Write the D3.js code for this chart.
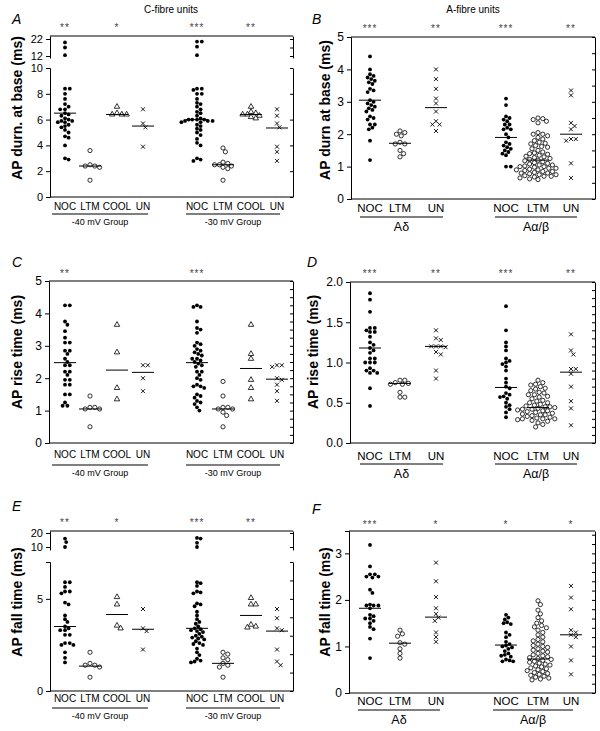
<!DOCTYPE html>
<meta charset="utf-8">
<script src="https://d3js.org/d3.v7.min.js"></script>
<style>
  body { margin: 0; background: #fff; }
  text { font-family: "Liberation Sans", Arial, sans-serif; fill: #000; }
</style>
<div id="chart"></div>
<script>

// ---- data ----
var catsC = ["NOC", "LTM", "COOL", "UN", "NOC", "LTM", "COOL", "UN"];
var catsA = ["NOC", "LTM", "UN", "NOC", "LTM", "UN"];
var groupsC = ["-40 mV Group", "-30 mV Group"];
var groupsA = ["A\u03b4", "A\u03b1/\u03b2"];

// A: AP duration at base, C-fibres
var durC = [
  [20, 17, 12.5, 8.4, 8.4, 8.0, 7.6, 7.2, 7.0, 6.8, 6.8, 6.5, 6.4, 6.3, 6.1, 6.0, 5.9, 5.9, 5.8, 5.8, 5.6, 5.5, 5.4, 5.2, 5.0, 4.7, 4.6, 4.0, 3.0, 2.9],
  [3.6, 2.5, 2.4, 2.3, 2.4, 1.3],
  [7.0, 6.4, 6.4, 6.4, 6.5],
  [6.8, 5.7, 5.4, 3.9],
  [20.5, 20.5, 17.5, 12.5, 8.4, 8.4, 8.3, 8.0, 8.0, 7.6, 7.3, 7.2, 7.0, 6.8, 6.6, 6.5, 6.3, 6.1, 6.0, 6.0, 6.0, 6.0, 5.9, 5.9, 5.9, 5.8, 5.8, 5.6, 5.5, 5.3, 5.2, 5.0, 4.8, 4.5, 4.2, 4.0, 3.0, 2.9, 2.8],
  [3.8, 3.5, 2.7, 2.6, 2.5, 2.5, 2.4, 2.3, 2.2, 1.3],
  [7.0, 6.6, 6.5, 6.4, 6.4, 6.3, 6.2, 6.1],
  [6.8, 6.3, 5.7, 5.4, 3.9, 3.5, 2.8]
];
var durCMed = [6.5, 2.4, 6.4, 5.5, 6.0, 2.5, 6.4, 5.35];

// B: AP duration at base, A-fibres
var durA = [
  [4.4, 4.0, 3.85, 3.8, 3.75, 3.7, 3.65, 3.6, 3.55, 3.4, 3.35, 3.3, 3.05, 3.0, 2.95, 2.9, 2.85, 2.8, 2.75, 2.7, 2.55, 2.5, 2.45, 2.3, 2.3, 2.2, 2.15, 1.8, 1.2],
  [2.1, 2.05, 2.0, 1.95, 1.75, 1.7, 1.7, 1.5, 1.4, 1.3],
  [4.0, 3.7, 3.4, 3.1, 2.95, 2.7, 2.4, 2.3, 2.3, 2.1],
  [3.1, 2.9, 2.55, 2.5, 2.45, 2.4, 2.3, 2.3, 2.2, 2.15, 2.15, 2.0, 1.9, 1.75, 1.7, 1.65, 1.6, 1.55, 1.5, 1.45, 1.4, 1.35, 1.0, 1.0],
  [2.5, 2.48, 2.45, 2.4, 2.35, 2.05, 2.0, 2.0, 1.95, 1.9, 1.85, 1.8, 1.75, 1.72, 1.7, 1.65, 1.62, 1.6, 1.55, 1.5, 1.45, 1.42, 1.4, 1.38, 1.35, 1.32, 1.3, 1.28, 1.25, 1.22, 1.2, 1.18, 1.15, 1.12, 1.1, 1.08, 1.05, 1.05, 1.02, 1.0, 1.0, 0.98, 0.95, 0.95, 0.92, 0.9, 0.9, 0.88, 0.85, 0.85, 0.82, 0.8, 0.8, 0.78, 0.75, 0.75, 0.72, 0.7, 0.7, 0.68, 0.65, 0.62, 0.6],
  [3.35, 3.2, 2.35, 2.25, 2.15, 1.85, 1.85, 1.8, 1.1, 0.65]
];
var durAMed = [3.05, 1.72, 2.82, 1.9, 1.2, 2.0];

// C: AP rise time, C-fibres
var riseC = [
  [4.25, 4.25, 3.75, 3.65, 3.45, 3.25, 3.1, 3.1, 2.85, 2.85, 2.75, 2.6, 2.5, 2.4, 2.4, 2.2, 2.2, 2.1, 1.95, 1.95, 1.8, 1.8, 1.5, 1.5, 1.25, 1.15, 1.15],
  [1.45, 1.1, 1.1, 1.05, 1.05, 0.5],
  [3.65, 2.8, 1.7, 1.35],
  [2.4, 2.4, 2.0, 1.6],
  [4.25, 4.2, 4.2, 3.75, 3.55, 3.5, 3.4, 3.1, 3.05, 3.0, 2.9, 2.85, 2.8, 2.75, 2.7, 2.6, 2.6, 2.55, 2.5, 2.45, 2.4, 2.35, 2.2, 2.2, 2.1, 2.0, 1.95, 1.8, 1.75, 1.75, 1.7, 1.5, 1.45, 1.4, 1.3, 1.25, 1.2, 1.1, 1.0],
  [1.9, 1.45, 1.1, 1.1, 1.05, 1.05, 0.95, 0.85, 0.5],
  [3.65, 2.75, 2.6, 1.95, 1.7, 1.35],
  [2.4, 2.4, 2.35, 2.0, 1.95, 1.8, 1.6, 1.3]
];
var riseCMed = [2.48, 1.05, 2.25, 2.18, 2.48, 1.05, 2.3, 1.97];

// D: AP rise time, A-fibres
var riseA = [
  [1.86, 1.78, 1.63, 1.43, 1.43, 1.4, 1.38, 1.38, 1.32, 1.25, 1.22, 1.18, 1.15, 1.12, 1.05, 1.05, 1.0, 1.0, 1.0, 0.93, 0.9, 0.9, 0.87, 0.87, 0.68, 0.46],
  [0.78, 0.78, 0.75, 0.74, 0.73, 0.73, 0.63, 0.57, 0.57],
  [1.4, 1.3, 1.28, 1.2, 1.2, 1.2, 1.19, 1.13, 1.1, 0.9, 0.8],
  [1.7, 1.4, 1.25, 1.2, 1.15, 1.05, 1.02, 1.0, 0.98, 0.95, 0.9, 0.8, 0.75, 0.7, 0.68, 0.62, 0.6, 0.58, 0.57, 0.55, 0.5, 0.47, 0.45, 0.42, 0.38, 0.32],
  [0.78, 0.75, 0.73, 0.72, 0.7, 0.68, 0.67, 0.65, 0.63, 0.62, 0.6, 0.6, 0.58, 0.57, 0.55, 0.53, 0.52, 0.5, 0.5, 0.48, 0.47, 0.46, 0.45, 0.45, 0.44, 0.43, 0.42, 0.42, 0.41, 0.4, 0.4, 0.39, 0.38, 0.37, 0.36, 0.35, 0.35, 0.34, 0.33, 0.32, 0.31, 0.3, 0.3, 0.3, 0.29, 0.28, 0.27, 0.25, 0.23, 0.2],
  [1.35, 1.15, 1.1, 0.92, 0.92, 0.86, 0.7, 0.52, 0.43, 0.22]
];
var riseAMed = [1.18, 0.74, 1.2, 0.69, 0.44, 0.88];

// E: AP fall time, C-fibres
var fallC = [
  [16, 13.5, 10, 5.9, 5.9, 5.65, 5.4, 5.4, 5.3, 4.8, 4.7, 4.1, 3.9, 3.75, 3.5, 3.4, 3.3, 3.3, 3.05, 3.05, 2.6, 2.6, 2.5, 2.5, 2.1, 1.8, 1.55],
  [2.1, 1.5, 1.4, 1.4, 1.3, 0.75],
  [5.1, 4.7, 3.55, 3.4],
  [4.45, 3.4, 3.25, 2.25],
  [16.5, 16, 13, 10, 5.9, 5.85, 5.7, 5.4, 5.35, 5.3, 4.75, 4.7, 4.6, 4.3, 4.1, 3.9, 3.75, 3.65, 3.5, 3.4, 3.35, 3.3, 3.25, 3.2, 3.1, 3.0, 2.95, 2.9, 2.85, 2.8, 2.7, 2.6, 2.55, 2.5, 2.3, 2.1, 1.95, 1.75, 1.65, 1.6, 1.55],
  [2.1, 2.0, 1.8, 1.7, 1.5, 1.4, 1.3, 0.75],
  [5.05, 4.7, 4.7, 3.6, 3.5, 3.45],
  [4.45, 3.95, 3.4, 3.3, 2.25, 1.6, 1.4]
];
var fallCMed = [3.5, 1.35, 4.15, 3.35, 3.4, 1.5, 4.1, 3.25];

// F: AP fall time, A-fibres
var fallA = [
  [3.18, 2.72, 2.55, 2.55, 2.5, 2.5, 2.48, 2.22, 2.15, 1.9, 1.88, 1.88, 1.88, 1.82, 1.68, 1.65, 1.6, 1.6, 1.55, 1.5, 1.42, 1.37, 1.17, 0.75],
  [1.35, 1.27, 1.22, 1.08, 1.05, 0.95, 0.85, 0.75],
  [2.8, 2.4, 2.06, 1.82, 1.7, 1.62, 1.55, 1.3, 1.2, 1.1],
  [1.68, 1.62, 1.58, 1.52, 1.5, 1.48, 1.3, 1.25, 1.2, 1.1, 1.05, 1.02, 1.0, 0.98, 0.95, 0.9, 0.85, 0.82, 0.8, 0.78, 0.72, 0.7, 0.68, 0.68],
  [1.98, 1.9, 1.78, 1.7, 1.62, 1.55, 1.5, 1.45, 1.42, 1.4, 1.35, 1.3, 1.25, 1.2, 1.15, 1.12, 1.1, 1.05, 1.02, 1.0, 0.98, 0.95, 0.92, 0.9, 0.88, 0.85, 0.82, 0.8, 0.78, 0.76, 0.74, 0.72, 0.7, 0.68, 0.66, 0.64, 0.62, 0.6, 0.58, 0.56, 0.54, 0.52, 0.5, 0.48, 0.46, 0.44, 0.42, 0.4, 0.38, 0.36, 0.34, 0.32, 0.3, 0.28],
  [2.3, 2.05, 1.8, 1.35, 1.3, 1.25, 1.2, 1.0, 0.7, 0.4]
];
var fallAMed = [1.82, 1.07, 1.63, 1.03, 0.73, 1.25];

// significance stars: [category index, label]
var starsA = [[0, "**"], [2, "*"], [4, "***"], [6, "**"]];
var starsB = [[0, "***"], [2, "**"], [3, "***"], [5, "**"]];
var starsC = [[0, "**"], [4, "***"]];
var starsD = [[0, "***"], [2, "**"], [3, "***"], [5, "**"]];
var starsE = [[0, "**"], [2, "*"], [4, "***"], [6, "**"]];
var starsF = [[0, "***"], [2, "*"], [3, "*"], [5, "*"]];

// ---- layout ----
var W = 600, H = 731;
var svg = d3.select("#chart").append("svg")
    .attr("width", W).attr("height", H);

var xLeft = [65, 90, 117, 143, 197, 223, 251, 277];
var xRight = [370, 400, 436, 506, 538, 571];

var panels = [
  {letter: "A", lx: 12, ly: 24, x0: 50, x1: 293, xs: xLeft, cats: catsC, data: durC, med: durCMed, stars: starsA, sy: 31,
   label: "AP durn. at base (ms)", labx: 22, laby: 108,
   lower: {dom: [0, 10], rng: [197, 68], ticks: [0, 2, 4, 6, 8, 10], minor: 2},
   upper: {dom: [12, 22], rng: [56, 39], top: 36, bot: 58, ticks: [12, 22], minor: [12, 17, 22]}, brk: 11,
   catY: 210, catSize: 10, groups: groupsC, gLines: [[52, 148], [186, 280]], gLineY: 214, gLabY: 225, gSize: 9},
  {letter: "B", lx: 312, ly: 24, x0: 351, x1: 595, xs: xRight, cats: catsA, data: durA, med: durAMed, stars: starsB, sy: 32,
   label: "AP durn at base (ms)", labx: 330, laby: 110,
   lower: {dom: [0, 5], rng: [199, 37], ticks: [0, 1, 2, 3, 4, 5], minor: 0.5},
   catY: 212, catSize: 11.5, groups: groupsA, gLines: [[360, 443], [495, 577]], gLineY: 217, gLabY: 231, gSize: 12.5},
  {letter: "C", lx: 12, ly: 267, x0: 49, x1: 293, xs: xLeft, cats: catsC, data: riseC, med: riseCMed, stars: starsC, sy: 277,
   label: "AP rise time (ms)", labx: 22, laby: 352,
   lower: {dom: [0, 5], rng: [443, 281], ticks: [0, 1, 2, 3, 4, 5], minor: 0.25},
   catY: 458, catSize: 10, groups: groupsC, gLines: [[52, 148], [186, 280]], gLineY: 465, gLabY: 476, gSize: 9},
  {letter: "D", lx: 307, ly: 267, x0: 350, x1: 595, xs: xRight, cats: catsA, data: riseA, med: riseAMed, stars: starsD, sy: 277,
   label: "AP rise time (ms)", labx: 318, laby: 352, fmt: d3.format(".1f"),
   lower: {dom: [0, 2], rng: [443, 282], ticks: [0, 0.5, 1, 1.5, 2], minor: 0.1},
   catY: 460, catSize: 11.5, groups: groupsA, gLines: [[360, 443], [495, 577]], gLineY: 464, gLabY: 478, gSize: 12.5},
  {letter: "E", lx: 12, ly: 511, x0: 50, x1: 293, xs: xLeft, cats: catsC, data: fallC, med: fallCMed, stars: starsE, sy: 526,
   label: "AP fall time (ms)", labx: 22, laby: 602,
   lower: {dom: [0, 7], rng: [691, 562], ticks: [0, 5], minor: 1},
   upper: {dom: [10, 20], rng: [547, 533], top: 531, bot: 550, ticks: [10, 20], minor: [10, 20]}, brk: 8,
   catY: 702, catSize: 10, groups: groupsC, gLines: [[52, 148], [186, 280]], gLineY: 708, gLabY: 719, gSize: 9},
  {letter: "F", lx: 312, ly: 514, x0: 349, x1: 595, xs: xRight, cats: catsA, data: fallA, med: fallAMed, stars: starsF, sy: 528,
   label: "AP fall time (ms)", labx: 330, laby: 602,
   lower: {dom: [0, 3.48], rng: [693, 531], ticks: [0, 1, 2, 3], minor: 0.2},
   catY: 705, catSize: 11.5, groups: groupsA, gLines: [[358, 440], [493, 573]], gLineY: 710, gLabY: 724, gSize: 12.5}
];

// titles
svg.append("text").attr("x", 171).attr("y", 13).attr("text-anchor", "middle")
  .style("font-size", "10px").text("C-fibre units");
svg.append("text").attr("x", 473).attr("y", 13).attr("text-anchor", "middle")
  .style("font-size", "10px").text("A-fibre units");

// simple deterministic beeswarm: nearest free horizontal slot
function swarm(vals, yOf, dist) {
  var pts = vals.map(function(v) { return {v: v, y: yOf(v)}; })
    .sort(function(a, b) { return a.y - b.y; });
  var placed = [];
  pts.forEach(function(p) {
    for (var k = 0; k < 60; k++) {
      var off = k === 0 ? 0 : (k % 2 ? 1 : -1) * Math.ceil(k / 2) * 1.2;
      var ok = placed.every(function(q) {
        var dx = q.dx - off, dy = q.y - p.y;
        return dx * dx + dy * dy >= dist * dist;
      });
      if (ok) { p.dx = off; break; }
    }
    if (p.dx === undefined) p.dx = 0;
    placed.push(p);
  });
  return placed;
}

function marker(g, kind, x, y) {
  if (kind === "NOC") {
    g.append("circle").attr("cx", x).attr("cy", y).attr("r", 1.9).attr("fill", "#000");
  } else if (kind === "LTM") {
    g.append("circle").attr("cx", x).attr("cy", y).attr("r", 2.1)
      .attr("fill", "#fff").attr("stroke", "#000").attr("stroke-width", 0.8);
  } else if (kind === "COOL") {
    g.append("path").attr("d", d3.symbol(d3.symbolTriangle, 13)())
      .attr("transform", "translate(" + x + "," + y + ")")
      .attr("fill", "#fff").attr("stroke", "#000").attr("stroke-width", 0.8);
  } else {
    g.append("path").attr("d", "M-2,-2L2,2M-2,2L2,-2")
      .attr("transform", "translate(" + x + "," + y + ")")
      .attr("fill", "none").attr("stroke", "#000").attr("stroke-width", 0.9);
  }
}

panels.forEach(function(p) {
  var g = svg.append("g");
  var lo = d3.scaleLinear().domain(p.lower.dom).range(p.lower.rng);
  var up = p.upper ? d3.scaleLinear().domain(p.upper.dom).range(p.upper.rng) : null;
  var yOf = function(v) { return (up && v > p.brk) ? up(v) : lo(v); };
  var fmt = p.fmt || d3.format("d");
  var lowTop = p.lower.rng[1];
  var frameTop = up ? p.upper.top : lowTop;
  var base = lo(0);

  // panel letter
  g.append("text").attr("x", p.lx).attr("y", p.ly)
    .style("font-size", "14px").style("font-style", "italic").text(p.letter);

  // frame: top & bottom lines
  g.append("line").attr("x1", p.x0).attr("x2", p.x1).attr("y1", frameTop).attr("y2", frameTop)
    .attr("stroke", "#000").attr("stroke-width", 1);
  g.append("line").attr("x1", p.x0).attr("x2", p.x1).attr("y1", base).attr("y2", base)
    .attr("stroke", "#000").attr("stroke-width", 1);

  // left axis, lower segment
  g.append("g").attr("transform", "translate(" + p.x0 + ",0)")
    .call(d3.axisLeft(lo).tickValues(p.lower.ticks).tickFormat(fmt).tickSizeInner(4).tickSizeOuter(4));
  // right axis, lower segment: inward minor ticks
  var rTicks = d3.range(p.lower.dom[0], p.lower.dom[1] + 1e-9, p.lower.minor);
  g.append("g").attr("transform", "translate(" + p.x1 + ",0)")
    .call(d3.axisRight(lo).tickValues(rTicks).tickFormat("").tickSizeInner(-3).tickSizeOuter(0));

  if (up) {
    var upAxScale = d3.scaleLinear().domain([up.invert(p.upper.bot), up.invert(p.upper.top)])
      .range([p.upper.bot, p.upper.top]);
    g.append("g").attr("transform", "translate(" + p.x0 + ",0)")
      .call(d3.axisLeft(upAxScale).tickValues(p.upper.ticks).tickFormat(d3.format("d")).tickSizeInner(4).tickSizeOuter(0));
    g.append("g").attr("transform", "translate(" + p.x1 + ",0)")
      .call(d3.axisRight(upAxScale).tickValues(p.upper.minor).tickFormat("").tickSizeInner(-3).tickSizeOuter(0));
  }
  g.selectAll(".tick text").style("font-size", up ? "11px" : "12px")
    .style("font-family", "'Liberation Sans', Arial, sans-serif");
  g.selectAll(".domain, .tick line").attr("stroke", "#000");

  // y label
  g.append("text")
    .attr("transform", "translate(" + p.labx + "," + p.laby + ") rotate(-90)")
    .attr("text-anchor", "middle")
    .style("font-size", "14px").style("font-weight", "bold")
    .text(p.label);

  // stars
  p.stars.forEach(function(s) {
    g.append("text").attr("x", p.xs[s[0]]).attr("y", p.sy).attr("text-anchor", "middle")
      .style("font-size", "10px").style("fill", "#444").style("letter-spacing", "1px").text(s[1]);
  });

  // points and medians
  p.data.forEach(function(vals, i) {
    var kind = p.cats[i];
    var dist = kind === "NOC" ? 3.6 : 4.4;
    var pts = swarm(vals, yOf, dist);
    pts.forEach(function(d) { marker(g, kind, p.xs[i] + d.dx, d.y); });
    var my = yOf(p.med[i]);
    g.append("line").attr("x1", p.xs[i] - 11).attr("x2", p.xs[i] + 11)
      .attr("y1", my).attr("y2", my).attr("stroke", "#000").attr("stroke-width", 1);
  });

  // category labels
  p.cats.forEach(function(c, i) {
    g.append("text").attr("x", p.xs[i]).attr("y", p.catY).attr("text-anchor", "middle")
      .style("font-size", p.catSize + "px").text(c);
  });

  // group lines and labels
  p.groups.forEach(function(gl, i) {
    var l = p.gLines[i];
    g.append("line").attr("x1", l[0]).attr("x2", l[1]).attr("y1", p.gLineY).attr("y2", p.gLineY)
      .attr("stroke", "#000").attr("stroke-width", 1);
    g.append("text").attr("x", (l[0] + l[1]) / 2).attr("y", p.gLabY).attr("text-anchor", "middle")
      .style("font-size", p.gSize + "px").text(gl);
  });
});

</script>
